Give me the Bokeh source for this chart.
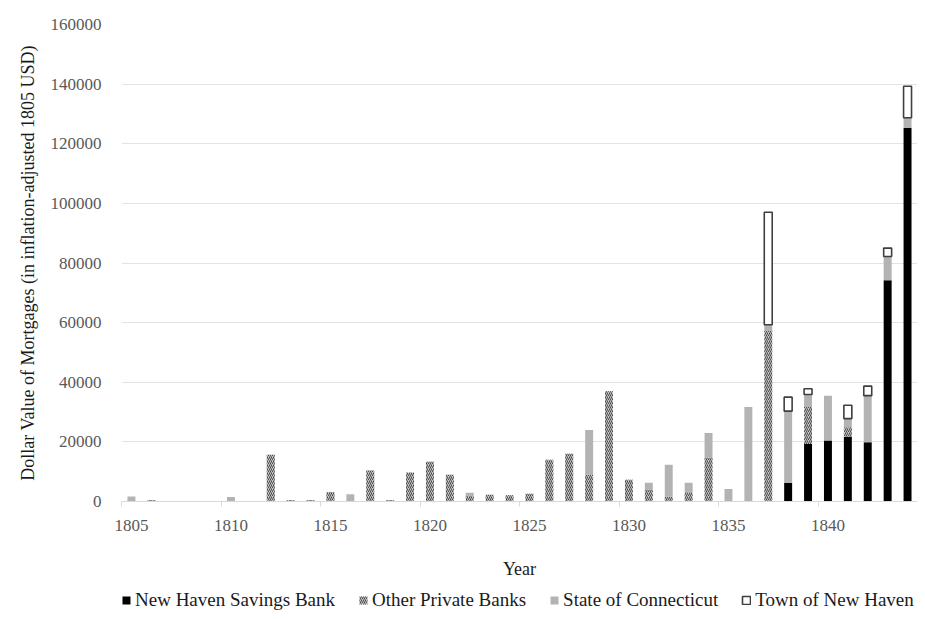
import numpy as np
from bokeh.plotting import figure
from bokeh.layouts import column
from bokeh.models import (ColumnDataSource, FixedTicker, NumeralTickFormatter,
                          Legend, LegendItem, Range1d)
from bokeh.embed import file_html
from bokeh.resources import INLINE

years = list(range(1805, 1845))

# values by year (inflation-adjusted 1805 USD)
savings_bank = {1838: 6300, 1839: 19300, 1840: 20500, 1841: 21600, 1842: 19900,
                1843: 74200, 1844: 125400}
other_banks = {1806: 500, 1812: 15700, 1813: 500, 1814: 500, 1815: 3200, 1817: 10400,
               1818: 500, 1819: 9700, 1820: 13300, 1821: 9000, 1822: 2000, 1823: 2300,
               1824: 2100, 1825: 2600, 1826: 14000, 1827: 16000, 1828: 9000, 1829: 37000,
               1830: 7300, 1831: 4000, 1832: 1600, 1833: 3100, 1834: 14800, 1837: 57400,
               1839: 12400, 1841: 3300}
state_ct = {1805: 1700, 1810: 1500, 1816: 2400, 1822: 900, 1828: 15000, 1831: 2300,
            1832: 10700, 1833: 3200, 1834: 8200, 1835: 4200, 1836: 31700, 1837: 1900,
            1838: 24000, 1839: 4200, 1840: 15000, 1841: 2900, 1842: 15600, 1843: 8000,
            1844: 3300}
town_nh = {1837: 37700, 1838: 4700, 1839: 1900, 1841: 4500, 1842: 3200, 1843: 2800,
           1844: 10600}

series_names = ["New Haven Savings Bank", "Other Private Banks",
                "State of Connecticut", "Town of New Haven"]
series = [savings_bank, other_banks, state_ct, town_nh]

y_ticks = list(range(0, 160001, 20000))
x_label_ticks = list(range(1805, 1841, 5))

FONT = "Liberation Serif"

p = figure(frame_width=796, frame_height=477, min_border_left=121, min_border_right=0,
           min_border_top=24, min_border_bottom=0, output_backend="svg",
           toolbar_location=None,
           x_range=Range1d(1804.5, 1844.5), y_range=Range1d(0, 160000))
p.outline_line_color = None

styles = [
    dict(fill_color="black", line_color=None),
    dict(fill_color="#c4c4c4", line_color=None, hatch_pattern="/", hatch_color="#4a4a4a",
         hatch_scale=4, hatch_weight=1.0),
    dict(fill_color="#b3b3b3", line_color=None),
    dict(fill_color="white", line_color="#3f3f3f", line_width=1.6),
]

# stacked bars
base = {y: 0 for y in years}
for s, st in zip(series, styles):
    xs, bots, tops = [], [], []
    for y in years:
        v = s.get(y, 0)
        if v > 0:
            xs.append(y)
            bots.append(base[y])
            tops.append(base[y] + v)
            base[y] += v
    src = ColumnDataSource(dict(x=xs, bottom=bots, top=tops))
    p.vbar(x="x", bottom="bottom", top="top", width=0.4, source=src, **st)

# axes
p.xaxis.ticker = FixedTicker(ticks=x_label_ticks,
                             minor_ticks=[t - 0.5 for t in range(1805, 1846, 5)])
p.xaxis.axis_label = "Year"
p.xaxis.axis_line_color = "#d9d9d9"
p.xaxis.major_tick_line_color = None
p.xaxis.minor_tick_line_color = "#d9d9d9"
p.xaxis.minor_tick_out = 5
p.xaxis.minor_tick_in = 0
p.xaxis.major_label_standoff = 12
p.xaxis.axis_label_standoff = 25

p.yaxis.ticker = FixedTicker(ticks=y_ticks)
p.yaxis.formatter = NumeralTickFormatter(format="0")
p.yaxis.axis_label = "Dollar Value of Mortgages (in inflation-adjusted 1805 USD)"
p.yaxis.axis_line_color = None
p.yaxis.major_tick_line_color = None
p.yaxis.minor_tick_line_color = None
p.yaxis.major_label_standoff = 14
p.yaxis.axis_label_standoff = 10

for ax in (p.xaxis, p.yaxis):
    ax.major_label_text_font = FONT
    ax.major_label_text_font_size = "17px"
    ax.major_label_text_color = "#595959"
    ax.axis_label_text_font = FONT
    ax.axis_label_text_font_size = "18px"
    ax.axis_label_text_font_style = "normal"
    ax.axis_label_text_color = "#1a1a1a"

p.xgrid.grid_line_color = None
p.ygrid.grid_line_color = "#e3e3e3"
p.ygrid.ticker = FixedTicker(ticks=y_ticks)

# legend strip (separate figure so that it sits under the axis title)
lg = figure(width=917, height=30, min_border=0, output_backend="svg",
            toolbar_location=None, x_axis_location=None, y_axis_location=None,
            x_range=Range1d(0, 1), y_range=Range1d(0, 1))
lg.outline_line_color = None
lg.grid.visible = False
# key renderers with no drawable geometry; they only feed the legend swatches
nan = np.array([np.nan])
leg_renderers = [lg.vbar(x=nan, bottom=nan, top=nan, width=0.4, **st) for st in styles]

legend = Legend(items=[LegendItem(label=n, renderers=[r])
                       for n, r in zip(series_names, leg_renderers)],
                orientation="horizontal", location=(0, 0),
                label_text_font=FONT, label_text_font_size="19px", label_text_color="#1a1a1a",
                glyph_width=10, glyph_height=10, label_standoff=4, spacing=23,
                label_height=18, padding=0, margin=0, border_line_color=None,
                background_fill_alpha=0)
lg.add_layout(legend, "center")

layout = column(p, lg, spacing=0)
open("out.html", "w").write(file_html(layout, INLINE))
